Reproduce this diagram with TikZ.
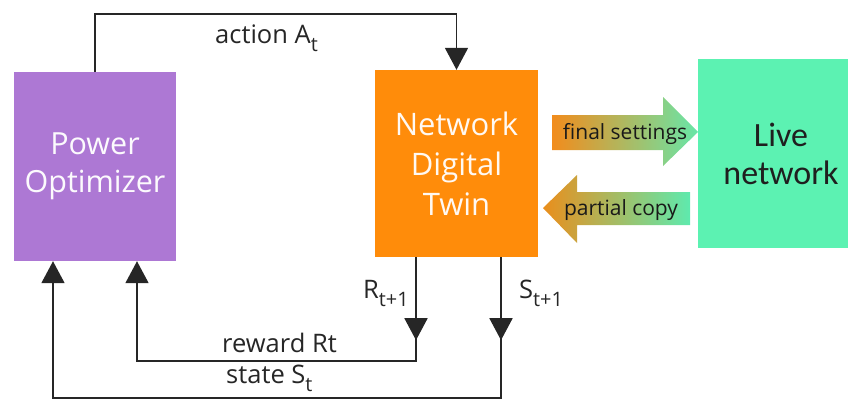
\documentclass[tikz,border=0pt]{standalone}
\usepackage{fontspec}
\setmainfont{Open Sans}
\newfontfamily\calfont{Carlito}
\usetikzlibrary{arrows.meta}
\newcommand{\sbs}[1]{\raisebox{-0.32em}{\scalebox{0.78}{#1}}}
\definecolor{pocol}{HTML}{AD78D4}
\definecolor{ndtcol}{HTML}{FF8C0A}
\definecolor{livecol}{HTML}{5CF2B2}
\definecolor{linecol}{HTML}{262626}
\definecolor{orA}{HTML}{F28C1C}
\definecolor{grA}{HTML}{68E6A8}
\definecolor{orB}{HTML}{EA8E1C}
\definecolor{grB}{HTML}{5EEAAE}
\begin{document}
\begin{tikzpicture}[x=1pt,y=-1pt,
  box/.style={draw=none, inner sep=0pt, align=center, text=white!96!pocol},
  conn/.style={draw=linecol, line width=1.8pt},
  tipend/.style={-{Triangle[width=23pt,length=22pt]}},
  lbl/.style={font=\fontsize{25.5}{30}\selectfont, text=linecol, inner sep=0pt},
  arrlbl/.style={font=\fontsize{21}{25}\selectfont, text=black!90, inner sep=0pt}]
\useasboundingbox (0,0) rectangle (848,399);

% boxes
\node[box, fill=pocol, minimum width=162pt, minimum height=189pt,
      font=\fontsize{30.5}{38}\selectfont] (po) at (95,166.5) {Power\\Optimizer};
\node[box, fill=ndtcol, minimum width=163pt, minimum height=187pt,
      font=\fontsize{31}{40}\selectfont, text=white!95!ndtcol] (ndt) at (456.5,163.5) {Network\\Digital\\Twin};
\node[box, fill=livecol, minimum width=166pt, minimum height=189pt,
      font=\calfont\fontsize{34}{38}\selectfont, text=black!88] (live) at (781,153.5) {Live\\network};

% block arrows
\shade[left color=orA, right color=grA] (552,115) -- (663,115) -- (663,97) -- (698,132)
   -- (663,166) -- (663,150) -- (552,150) -- cycle;
\node[arrlbl, anchor=base] (fs) at (625,139) {final settings};
\shade[left color=orB, right color=grB] (543,208) -- (577,175) -- (577,192) -- (690,192)
   -- (690,225) -- (577,225) -- (577,243) -- cycle;
\node[arrlbl, anchor=base] (pc) at (621,215) {partial copy};

% connectors
\coordinate (a1) at (95,14);
\draw[conn, tipend] (po.north) -- (a1) -| (ndt.north);

\coordinate (rx) at (416,361);
\coordinate (px) at (137,361);
\draw[conn, tipend] (ndt.south -| rx) -- (rx) -- (px) -- (po.south -| px);
\draw[conn, tipend] (ndt.south -| rx) -- ++(0,83);

\coordinate (sx) at (501,398);
\coordinate (qx) at (53,398);
\draw[conn, tipend] (ndt.south -| sx) -- (sx) -- (qx) -- (po.south -| qx);
\draw[conn, tipend] (ndt.south -| sx) -- ++(0,83);

% labels
\node[lbl, anchor=base west] (la) at (215,43) {action A\sbs{t}};
\node[lbl, anchor=base west] (lr) at (222,352) {reward Rt};
\node[lbl, anchor=base west] (ls) at (226,383) {state S\sbs{t}};
\node[lbl, anchor=base west] (lr1) at (363,298) {R\sbs{t+1}};
\node[lbl, anchor=base west] (ls1) at (519,298) {S\sbs{t+1}};
\end{tikzpicture}
\end{document}
